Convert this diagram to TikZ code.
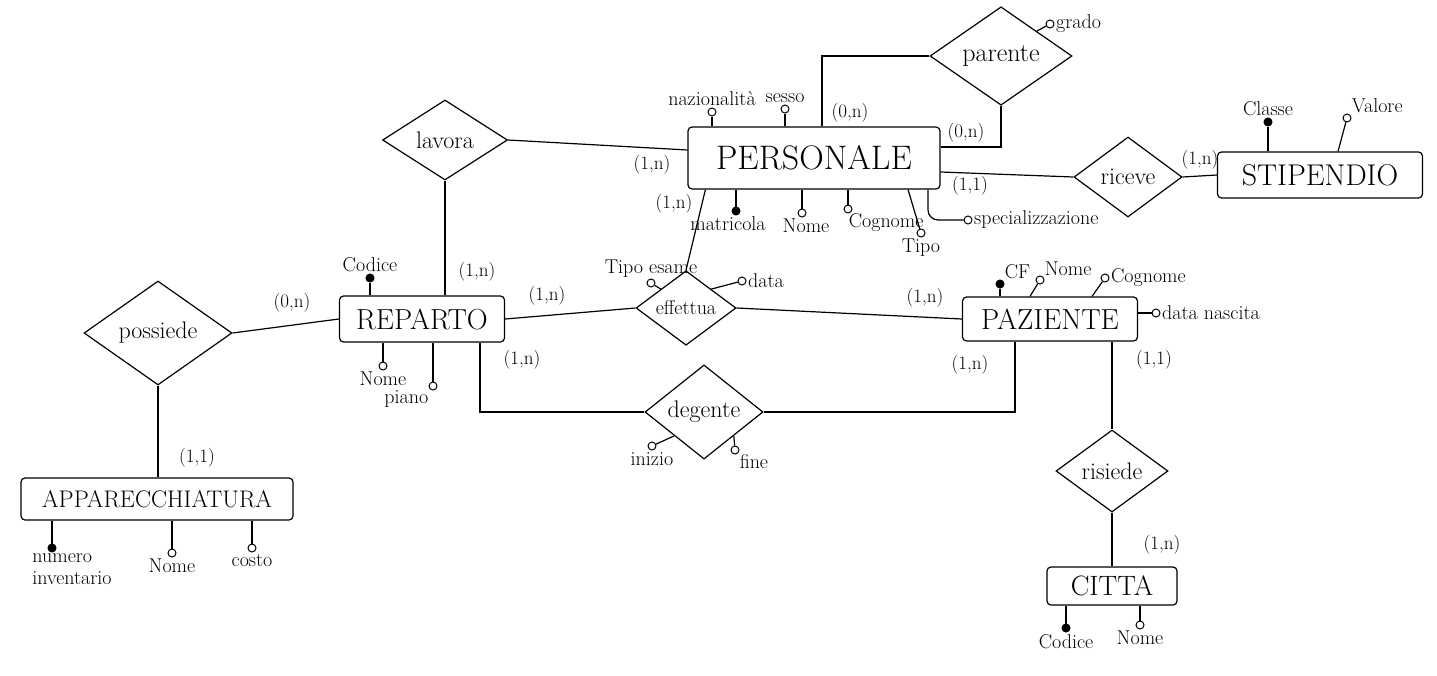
\documentclass[tikz,border=0pt]{standalone}
\usepackage{tikz}
\usetikzlibrary{positioning,shapes.geometric}

\begin{document}
\begin{tikzpicture}[
	x=1pt, y=-1pt, line width=1.2pt,
	entity/.style={draw, rounded corners=4pt, inner sep=0pt},
	rel/.style={draw, diamond, inner sep=0pt, font=\fontsize{24}{26}\selectfont},
	attr/.style={draw, circle, inner sep=0pt, minimum size=8pt, fill=white, line width=1pt},
	keyattr/.style={attr, fill=black},
	card/.style={font=\fontsize{19}{21}\selectfont, inner sep=1pt},
	lbl/.style={font=\fontsize{20}{22}\selectfont, inner sep=1pt}]
	\useasboundingbox (0,0) rectangle (1437,675);

	% entita'
	\node[entity, minimum width=252, minimum height=62, font=\fontsize{34}{36}\selectfont] (pers) at (814,158) {PERSONALE};
	\node[entity, minimum width=205, minimum height=46, font=\fontsize{30}{32}\selectfont] (stip) at (1320,175) {STIPENDIO};
	\node[entity, minimum width=165, minimum height=46, font=\fontsize{29}{31}\selectfont] (rep) at (422,319) {REPARTO};
	\node[entity, minimum width=175, minimum height=44, font=\fontsize{29}{31}\selectfont] (paz) at (1050,319) {PAZIENTE};
	\node[entity, minimum width=272, minimum height=42, font=\fontsize{24}{26}\selectfont] (app) at (157,499) {APPARECCHIATURA};
	\node[entity, minimum width=130, minimum height=38, font=\fontsize{28}{30}\selectfont] (citta) at (1112,586) {CITTA};

	% relazioni
	\node[rel, minimum width=142, minimum height=86, font=\fontsize{26}{28}\selectfont] (par) at (1001,56) {parente};
	\node[rel, minimum width=125, minimum height=80] (lav) at (445,140) {lavora};
	\node[rel, minimum width=108, minimum height=80] (ric) at (1128,177) {riceve};
	\node[rel, minimum width=148, minimum height=104] (pos) at (158,333) {possiede};
	\node[rel, minimum width=100, minimum height=72, font=\fontsize{20}{22}\selectfont] (eff) at (686,308) {effettua};
	\node[rel, minimum width=118, minimum height=80] (deg) at (704,412) {degente};
	\node[rel, minimum width=112, minimum height=82] (ris) at (1112,471) {risiede};

	% collegamenti
	\draw (par.west) -| ([xshift=8pt]pers.north);
	\draw (par.south) |- ([yshift=11pt]pers.east);
	\draw ([yshift=-14pt]pers.east) -- (ric.west);
	\draw (ric.east) -- (stip.west);
	\draw (lav.east) -- ([yshift=8pt]pers.west);
	\draw (lav.south) -- (lav.south |- rep.north);
	\draw (pos.east) -- (rep.west);
	\draw (pos.south) -- (pos.south |- app.north);
	\draw (rep.east) -- (eff.west);
	\draw (eff.north) -- ([xshift=18pt]pers.south west);
	\draw (eff.east) -- (paz.west);
	\draw ([xshift=58pt]rep.south) |- (deg.west);
	\draw ([xshift=-35pt]paz.south) |- (deg.east);
	\draw (ris.north |- paz.south) -- (ris.north);
	\draw (ris.south) -- (citta.north);

	% cardinalita'
	\node[card] (k1) at (850,113) {(0,n)};
	\node[card] (k2) at (966,133) {(0,n)};
	\node[card] (k3) at (970,186) {(1,1)};
	\node[card] (k4) at (1200,160) {(1,n)};
	\node[card] (k5) at (652,165) {(1,n)};
	\node[card] (k6) at (674,204) {(1,n)};
	\node[card] (k7) at (477,272) {(1,n)};
	\node[card] (k8) at (292,303) {(0,n)};
	\node[card] (k9) at (197,458) {(1,1)};
	\node[card] (k10) at (547,296) {(1,n)};
	\node[card] (k11) at (925,298) {(1,n)};
	\node[card] (k12) at (522,360) {(1,n)};
	\node[card] (k13) at (970,365) {(1,n)};
	\node[card] (k14) at (1154,360) {(1,1)};
	\node[card] (k15) at (1162,545) {(1,n)};

	% attributi PERSONALE
	\node[attr, label={[lbl]above:nazionalità}] (aNaz) at (712,112) {};
	\node[attr, label={[lbl]above:sesso}] (aSesso) at (785,109) {};
	\node[keyattr, label={[lbl, xshift=-8pt]below:matricola}] (aMatr) at (736,211) {};
	\node[attr, label={[lbl, xshift=4pt]below:Nome}] (aNomeP) at (802,213) {};
	\node[attr, label={[lbl, xshift=-4pt]below right:Cognome}] (aCognP) at (848,209) {};
	\node[attr, label={[lbl]below:Tipo}] (aTipo) at (921,233) {};
	\node[attr, label={[lbl]right:specializzazione}] (aSpec) at (968,220) {};
	\draw (aNaz) -- (aNaz |- pers.north);
	\draw (aSesso) -- (aSesso |- pers.north);
	\draw (aMatr) -- (aMatr |- pers.south);
	\draw (aNomeP) -- (aNomeP |- pers.south);
	\draw (aCognP) -- (aCognP |- pers.south);
	\draw (aTipo) -- ([xshift=94pt]pers.south);
	\draw[rounded corners=10pt] ([xshift=114pt]pers.south) |- (aSpec);

	% attributi parente, STIPENDIO
	\node[attr, label={[lbl]right:grado}] (aGrado) at (1050,24) {};
	\draw (par.north east) -- (aGrado);
	\node[keyattr, label={[lbl]above:Classe}] (aClasse) at (1268,122) {};
	\node[attr, label={[lbl]above right:Valore}] (aValore) at (1347,118) {};
	\draw (aClasse) -- (aClasse |- stip.north);
	\draw (aValore) -- ([xshift=18pt]stip.north);

	% attributi REPARTO
	\node[keyattr, label={[lbl]above:Codice}] (aCodR) at (370,278) {};
	\node[attr, label={[lbl]below:Nome}] (aNomeR) at (383,366) {};
	\node[attr, label={[lbl]below left:piano}] (aPiano) at (433,386) {};
	\draw (aCodR) -- (aCodR |- rep.north);
	\draw (aNomeR) -- (aNomeR |- rep.south);
	\draw (aPiano) -- (aPiano |- rep.south);

	% attributi APPARECCHIATURA
	\node[keyattr, label={[lbl, align=left, xshift=20pt]below:numero\\inventario}] (aNum) at (52,548) {};
	\node[attr, label={[lbl]below:Nome}] (aNomeA) at (172,553) {};
	\node[attr, label={[lbl]below:costo}] (aCosto) at (252,548) {};
	\draw (aNum) -- (aNum |- app.south);
	\draw (aNomeA) -- (aNomeA |- app.south);
	\draw (aCosto) -- (aCosto |- app.south);

	% attributi effettua, degente
	\node[attr, label={[lbl]above:Tipo esame}] (aTEsame) at (651,283) {};
	\node[attr, label={[lbl]right:data}] (aData) at (742,281) {};
	\draw (aTEsame) -- (eff.north west);
	\draw (aData) -- (eff.north east);
	\node[attr, label={[lbl]below:inizio}] (aInizio) at (652,446) {};
	\node[attr, label={[lbl]below right:fine}] (aFine) at (735,450) {};
	\draw (aInizio) -- (deg.south west);
	\draw (aFine) -- (deg.south east);

	% attributi PAZIENTE
	\node[keyattr, label={[lbl]above right:CF}] (aCF) at (1000,284) {};
	\node[attr, label={[lbl]above right:Nome}] (aNomeZ) at (1040,280) {};
	\node[attr, label={[lbl]right:Cognome}] (aCognZ) at (1105,278) {};
	\node[attr, label={[lbl]right:data nascita}] (aNasc) at (1156,313) {};
	\draw (aCF) -- (aCF |- paz.north);
	\draw (aNomeZ) -- ([xshift=-20pt]paz.north);
	\draw (aCognZ) -- ([xshift=42pt]paz.north);
	\draw ([yshift=6pt]paz.east) -- (aNasc);

	% attributi CITTA
	\node[keyattr, label={[lbl]below:Codice}] (aCodC) at (1066,628) {};
	\node[attr, label={[lbl]below:Nome}] (aNomeC) at (1140,625) {};
	\draw (aCodC) -- (aCodC |- citta.south);
	\draw (aNomeC) -- (aNomeC |- citta.south);
\end{tikzpicture}
\end{document}
